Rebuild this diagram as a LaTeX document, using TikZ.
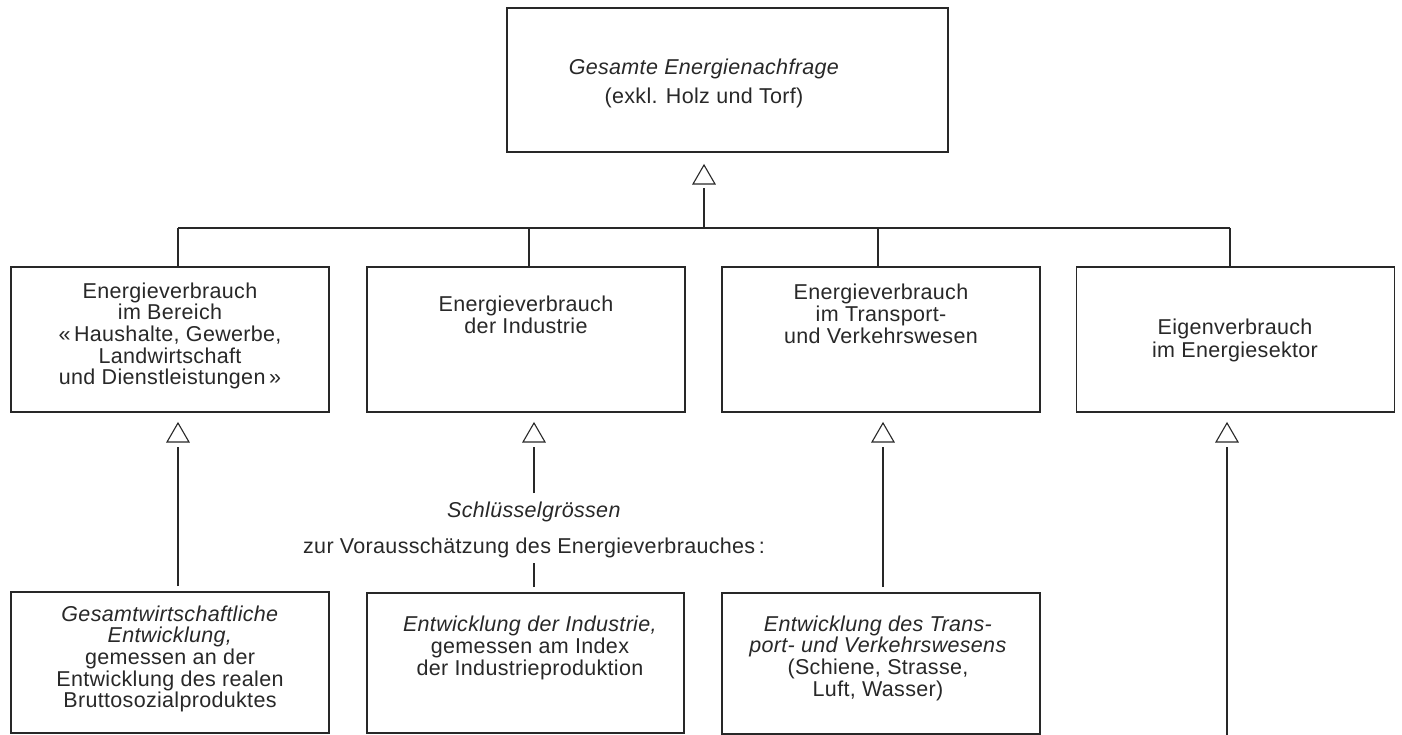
\documentclass[tikz,border=0pt]{standalone}
\usepackage{fontspec}
\setmainfont{Liberation Sans}[LetterSpace=1.5]
\usetikzlibrary{calc}
\definecolor{ink}{RGB}{40,40,40}
\tikzset{
  box/.style={draw=ink, line width=1.5pt, inner sep=0pt, outer sep=0pt, minimum width=318pt},
  txt/.style={text=ink, align=center, inner sep=0pt, font=\fontsize{21.5}{21.7}\selectfont},
  conn/.style={draw=ink, line width=1.4pt},
  uptri/.pic={\draw[ink, line width=1.1pt, fill=white, line join=miter] (-11,19) -- (0,0) -- (11,19) -- cycle;}
}
\begin{document}
\begin{tikzpicture}[x=1pt,y=-1pt]
\fill[white] (0,0) rectangle (1402,735);
\useasboundingbox (0,0) rectangle (1402,735);

% top box
\node[box, minimum width=441pt, minimum height=144pt] (top) at (727.5,80) {};
\node[txt, font=\fontsize{21.5}{29}\selectfont] (toptext) at (704,83) {\textit{Gesamte Energienachfrage}\\(exkl. Holz und Torf)};

% middle boxes
\node[box, minimum height=145pt] (m1) at (170,339.5) {};
\node[txt] (m1t) at (170,336) {Energieverbrauch\\im Bereich\\«\,Haushalte, Gewerbe,\\Landwirtschaft\\und Dienstleistungen\,»};
\node[box, minimum height=145pt] (m2) at (526,339.5) {};
\node[txt] (m2t) at (526,315) {Energieverbrauch\\der Industrie};
\node[box, minimum height=145pt] (m3) at (881,339.5) {};
\node[txt] (m3t) at (881,314) {Energieverbrauch\\im Transport-\\und Verkehrswesen};
\node[box, minimum height=145pt] (m4) at (1235.5,339.5) {};
\node[txt, font=\fontsize{21.5}{23}\selectfont] (m4t) at (1235,340) {Eigenverbrauch\\im Energiesektor};

% bottom boxes
\node[box, minimum height=141pt] (b1) at (170,662.5) {};
\node[txt] (b1t) at (170,659) {\textit{Gesamtwirtschaftliche}\\\textit{Entwicklung,}\\gemessen an der\\Entwicklung des realen\\Bruttosozialproduktes};
\node[box, minimum width=317pt, minimum height=140pt] (b2) at (525.5,663) {};
\node[txt] (b2t) at (530,648) {\textit{Entwicklung der Industrie,}\\gemessen am Index\\der Industrieproduktion};
\node[box, minimum height=141pt] (b3) at (881,663.5) {};
\node[txt] (b3t) at (878,658) {\textit{Entwicklung des Trans-}\\\textit{port- und Verkehrswesens}\\(Schiene, Strasse,\\Luft, Wasser)};

% key quantities label
\node[txt, anchor=base] (key1) at (534,517) {\textit{Schlüsselgrössen}};
\node[txt, anchor=base] (key2) at (534,553) {zur Vorausschätzung des Energieverbrauches\,:};

% upper connectors
\coordinate (j0) at (704,228);
\coordinate (k1) at (178,228);
\coordinate (k2) at (529,228);
\coordinate (k3) at (878,228);
\coordinate (k4) at (1230,228);
\draw[conn] (k1) -- (k4);
\draw[conn] (j0) -- (j0 |- 0,188);
\pic (t0) at (704,165) {uptri};
\draw[conn] (k1) -- (k1 |- m1.north);
\draw[conn] (k2) -- (k2 |- m2.north);
\draw[conn] (k3) -- (k3 |- m3.north);
\draw[conn] (k4) -- (k4 |- m4.north);

% lower connectors
\coordinate (a1) at (178,447);
\coordinate (a2) at (534,447);
\coordinate (a3) at (883,447);
\coordinate (a4) at (1227,447);
\coordinate (e4) at (1227,736);
\draw[conn, shorten <=6pt] (a1 |- b1.north) -- (a1);
\draw[conn, shorten <=8pt] (key1.north) -- (a2);
\draw[conn, shorten <=6pt, shorten >=5pt] (a2 |- b2.north) -- (key2.south);
\draw[conn, shorten <=6pt] (a3 |- b3.north) -- (a3);
\draw[conn] (e4) -- (a4);
\pic (t1) at (178,423) {uptri};
\pic (t2) at (534,423) {uptri};
\pic (t3) at (883,423) {uptri};
\pic (t4) at (1227,423) {uptri};
\end{tikzpicture}
\end{document}
